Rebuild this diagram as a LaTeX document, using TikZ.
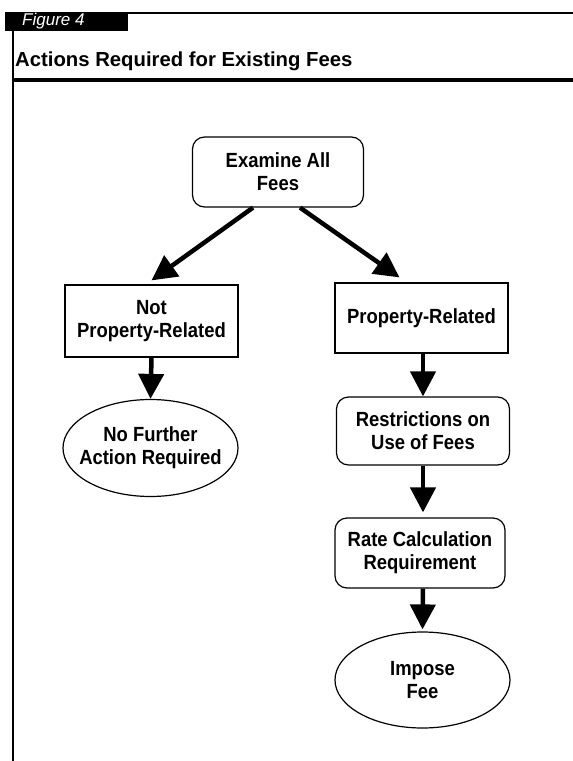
\documentclass[tikz,border=0pt]{standalone}
\usepackage{fontspec}
\setmainfont{Liberation Sans}
\newfontface\nodefont[FakeStretch=0.9]{Liberation Sans Bold}
\usetikzlibrary{shapes.geometric,arrows.meta}
\tikzset{
  boxbase/.style={draw, line width=1.2pt, align=center, inner sep=2pt,
    font=\nodefont\fontsize{20.5}{23}\selectfont},
  sqbox/.style={boxbase, rectangle},
  rbox/.style={boxbase, rectangle, rounded corners=12pt},
  ovalbox/.style={boxbase, ellipse, inner xsep=-12pt, inner ysep=0pt},
  arr/.style={line width=4.5pt, -{Triangle[width=25pt,length=25pt]}}
}
\begin{document}
\begin{tikzpicture}[x=1pt,y=-1pt]
\useasboundingbox (0,0) rectangle (573,761);
% frame
\draw[line width=1.5pt] (5,13) -- (573,13);
\fill (5,12) rectangle (128,31);
\node[anchor=west, text=white, inner sep=0pt, font=\itshape\fontsize{17}{19}\selectfont] (fig) at (22,21.5) {Figure 4};
\draw[line width=2pt] (13,31) -- (13,761);
\node[anchor=base west, inner sep=0pt, font=\bfseries\fontsize{20.3}{24}\selectfont] (title) at (15,66) {Actions Required for Existing Fees};
\draw[line width=4pt] (13,80) -- (573,80);
% nodes
\node[rbox, minimum width=171pt, minimum height=70pt] (exam) at (278,172) {Examine All\\Fees};
\node[sqbox, minimum width=173pt, minimum height=72pt] (notp) at (151.5,321) {Not\\Property-Related};
\node[ovalbox, minimum width=175pt, minimum height=97pt] (nofur) at (150.5,448) {No Further\\Action Required};
\node[sqbox, minimum width=173pt, minimum height=70pt] (prop) at (421.5,318) {Property-Related};
\node[rbox, minimum width=173pt, minimum height=68pt] (restr) at (423,431) {Restrictions on\\Use of Fees};
\node[rbox, minimum width=170pt, minimum height=70pt] (rate) at (420,553) {Rate Calculation\\Requirement};
\node[ovalbox, minimum width=175pt, minimum height=96pt] (impose) at (422.5,680) {Impose\\Fee};
% connectors
\draw[arr] ([xshift=-25pt]exam.south) -- ([yshift=4pt]notp.north);
\draw[arr] ([xshift=22pt]exam.south) -- ([xshift=-22pt,yshift=5pt]prop.north);
\draw[arr] (notp.south) -- (nofur.north);
\draw[arr] ([xshift=1.5pt]prop.south) -- (restr.north);
\draw[arr] (restr.south) -- ([xshift=3pt,yshift=5pt]rate.north);
\draw[arr] ([xshift=3pt]rate.south) -- ([yshift=2pt]impose.north);
\end{tikzpicture}
\end{document}
